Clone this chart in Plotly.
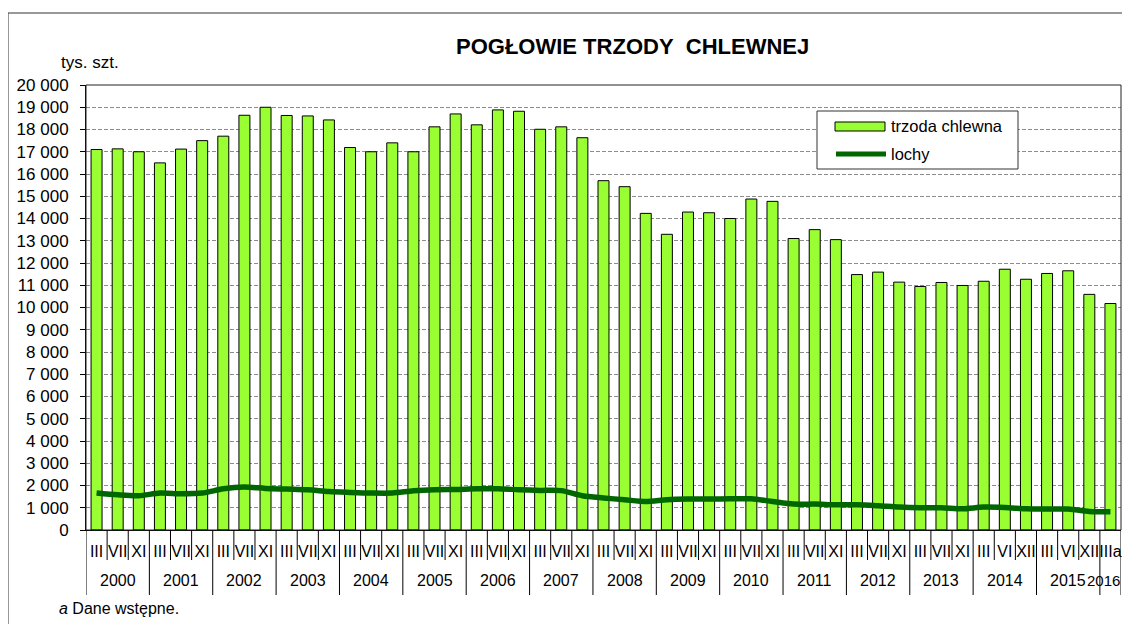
import plotly.graph_objects as go

# ---------------- data ----------------
years = ["2000", "2001", "2002", "2003", "2004", "2005", "2006", "2007",
         "2008", "2009", "2010", "2011", "2012", "2013", "2014", "2015", "2016"]
months_std = ["III", "VII", "XI"]
months_new = ["III", "VI", "XII"]
months_2016 = ["IIIa"]

year_labels = []
month_labels = []
for y in years:
    if y == "2016":
        ms = months_2016
    elif y in ("2014", "2015"):
        ms = months_new
    else:
        ms = months_std
    for m in ms:
        year_labels.append(y)
        month_labels.append(m)

trzoda = [17100, 17130, 17000, 16500, 17120, 17500, 17700, 18640, 19000,
          18630, 18610, 18430, 17190, 17000, 17400, 17000, 18120, 18700,
          18210, 18880, 18820, 18010, 18120, 17630, 15700, 15430, 14230,
          13290, 14290, 14260, 14000, 14875, 14770, 13100, 13500, 13050,
          11480, 11590, 11140, 10945, 11125, 10990, 11180, 11720, 11270,
          11530, 11650, 10590, 10180]

lochy = [1660, 1580, 1540, 1660, 1630, 1660, 1850, 1930, 1870,
         1840, 1810, 1730, 1690, 1660, 1660, 1760, 1810, 1820,
         1850, 1850, 1810, 1780, 1770, 1540, 1440, 1360, 1280,
         1360, 1390, 1390, 1400, 1400, 1280, 1165, 1165, 1135,
         1135, 1090, 1030, 1000, 1000, 955, 1030, 1010, 955,
         940, 940, 835, 820]

ytickvals = list(range(0, 20001, 1000))

# ---------------- layout geometry ----------------
# page body adds an 8px margin, so the figure is drawn smaller and shifted
OFF = 8
W, H = 1130 - 2 * OFF, 624 - OFF
L, R, T = 86 - OFF, 1, 85 - OFF
B = H - (530 - OFF)
PW = W - L - R
PH = H - T - B
RIGHT_EDGE = OFF + W - 1  # last visible pixel column of the page


def px(x):
    return (x - OFF - L) / PW


def py(y):
    return (H - B - (y - OFF)) / PH


FONT = "Liberation Sans, Arial, sans-serif"
BAR_COLOR = "#99FF33"
LINE_COLOR = "#006600"

n = len(month_labels)
xpos = list(range(n))

fig = go.Figure()
fig.add_trace(go.Bar(
    x=xpos, y=trzoda, name="trzoda chlewna",
    marker=dict(color=BAR_COLOR, line=dict(color="black", width=1)),
    showlegend=False,
))
fig.add_trace(go.Scatter(
    x=xpos, y=lochy, name="lochy", mode="lines",
    line=dict(color=LINE_COLOR, width=5.5, shape="spline", smoothing=0.8),
    showlegend=False,
))

shapes = [
    # outer frame
    dict(type="rect", xref="paper", yref="paper", x0=px(8), y0=py(13), x1=1.2, y1=-0.6,
         line=dict(color="#333333", width=1), fillcolor="rgba(0,0,0,0)", layer="below"),
    # plot box
    dict(type="rect", xref="paper", yref="paper", x0=0, y0=0, x1=1, y1=1,
         line=dict(color="#222222", width=1), fillcolor="rgba(0,0,0,0)", layer="above"),
    # legend box
    dict(type="rect", xref="paper", yref="paper", x0=px(817), y0=py(169), x1=px(1018), y1=py(111),
         line=dict(color="#333333", width=1), fillcolor="white", layer="above"),
    dict(type="rect", xref="paper", yref="paper", x0=px(835), y0=py(131), x1=px(885), y1=py(122),
         line=dict(color="black", width=1), fillcolor=BAR_COLOR, layer="above"),
    dict(type="line", xref="paper", yref="paper", x0=px(836), y0=py(154), x1=px(886), y1=py(154),
         line=dict(color=LINE_COLOR, width=5), layer="above"),
]

annotations = [
    dict(text="<b>POGŁOWIE TRZODY\u00a0 CHLEWNEJ</b>", xref="paper", yref="paper",
         x=px(632), y=py(47), xanchor="center", yanchor="middle", showarrow=False,
         font=dict(family=FONT, size=22, color="black")),
    dict(text="tys. szt.", xref="paper", yref="paper", x=px(59), y=py(62),
         xanchor="left", yanchor="middle", showarrow=False,
         font=dict(family=FONT, size=17, color="black")),
    dict(text="trzoda chlewna", xref="paper", yref="paper", x=px(889), y=py(126),
         xanchor="left", yanchor="middle", showarrow=False,
         font=dict(family=FONT, size=16.5, color="black")),
    dict(text="lochy", xref="paper", yref="paper", x=px(889), y=py(154),
         xanchor="left", yanchor="middle", showarrow=False,
         font=dict(family=FONT, size=16.5, color="black")),
    dict(text="<i>a</i> Dane wstępne.", xref="paper", yref="paper", x=px(57), y=py(608),
         xanchor="left", yanchor="middle", showarrow=False,
         font=dict(family=FONT, size=16, color="black")),
]

# category boundary ticks (short) and year dividers (long) + year labels
for i in range(n + 1):
    is_year_edge = (i == 0 or i == n or year_labels[i] != year_labels[i - 1])
    y_end = py(595) if is_year_edge else py(560)
    shapes.append(dict(type="line", xref="x", yref="paper", x0=i - 0.5, x1=i - 0.5,
                       y0=0, y1=y_end, line=dict(color="black", width=1)))

start = 0
for i in range(1, n + 1):
    if i == n or year_labels[i] != year_labels[start]:
        last = (i == n)
        annotations.append(dict(text=year_labels[start], xref="paper" if last else "x",
                                yref="paper",
                                x=px(RIGHT_EDGE + 1) if last else (start + i - 1) / 2,
                                y=py(580),
                                xanchor="right" if last else "center", yanchor="middle",
                                showarrow=False,
                                font=dict(family=FONT, size=15 if last else 16, color="black")))
        start = i

fig.update_layout(
    width=W, height=H,
    margin=dict(l=L, r=R, t=T, b=B, pad=0),
    paper_bgcolor="white", plot_bgcolor="white",
    font=dict(family=FONT, size=16, color="black"),
    separators=", ",
    bargap=0.48,
    showlegend=False,
    shapes=shapes,
    annotations=annotations,
    xaxis=dict(
        range=[-0.5, n - 0.5],
        tickmode="array", tickvals=xpos, ticktext=month_labels,
        showline=True, linecolor="black", linewidth=1,
        ticks="", showgrid=False, zeroline=False, tickangle=0,
        ticklabelstandoff=7,
        tickfont=dict(family=FONT, size=16, color="black"),
    ),
    yaxis=dict(
        range=[0, 20000],
        tickvals=ytickvals,
        tickformat=",d",
        showline=True, linecolor="black", linewidth=1,
        ticks="outside", ticklen=5, tickcolor="black",
        showgrid=True, gridcolor="#8c8c8c", gridwidth=1, griddash="4px,2px",
        zeroline=False,
        tickfont=dict(family=FONT, size=17, color="black"),
        ticklabelstandoff=8,
    ),
)

fig.write_html("out.html")
